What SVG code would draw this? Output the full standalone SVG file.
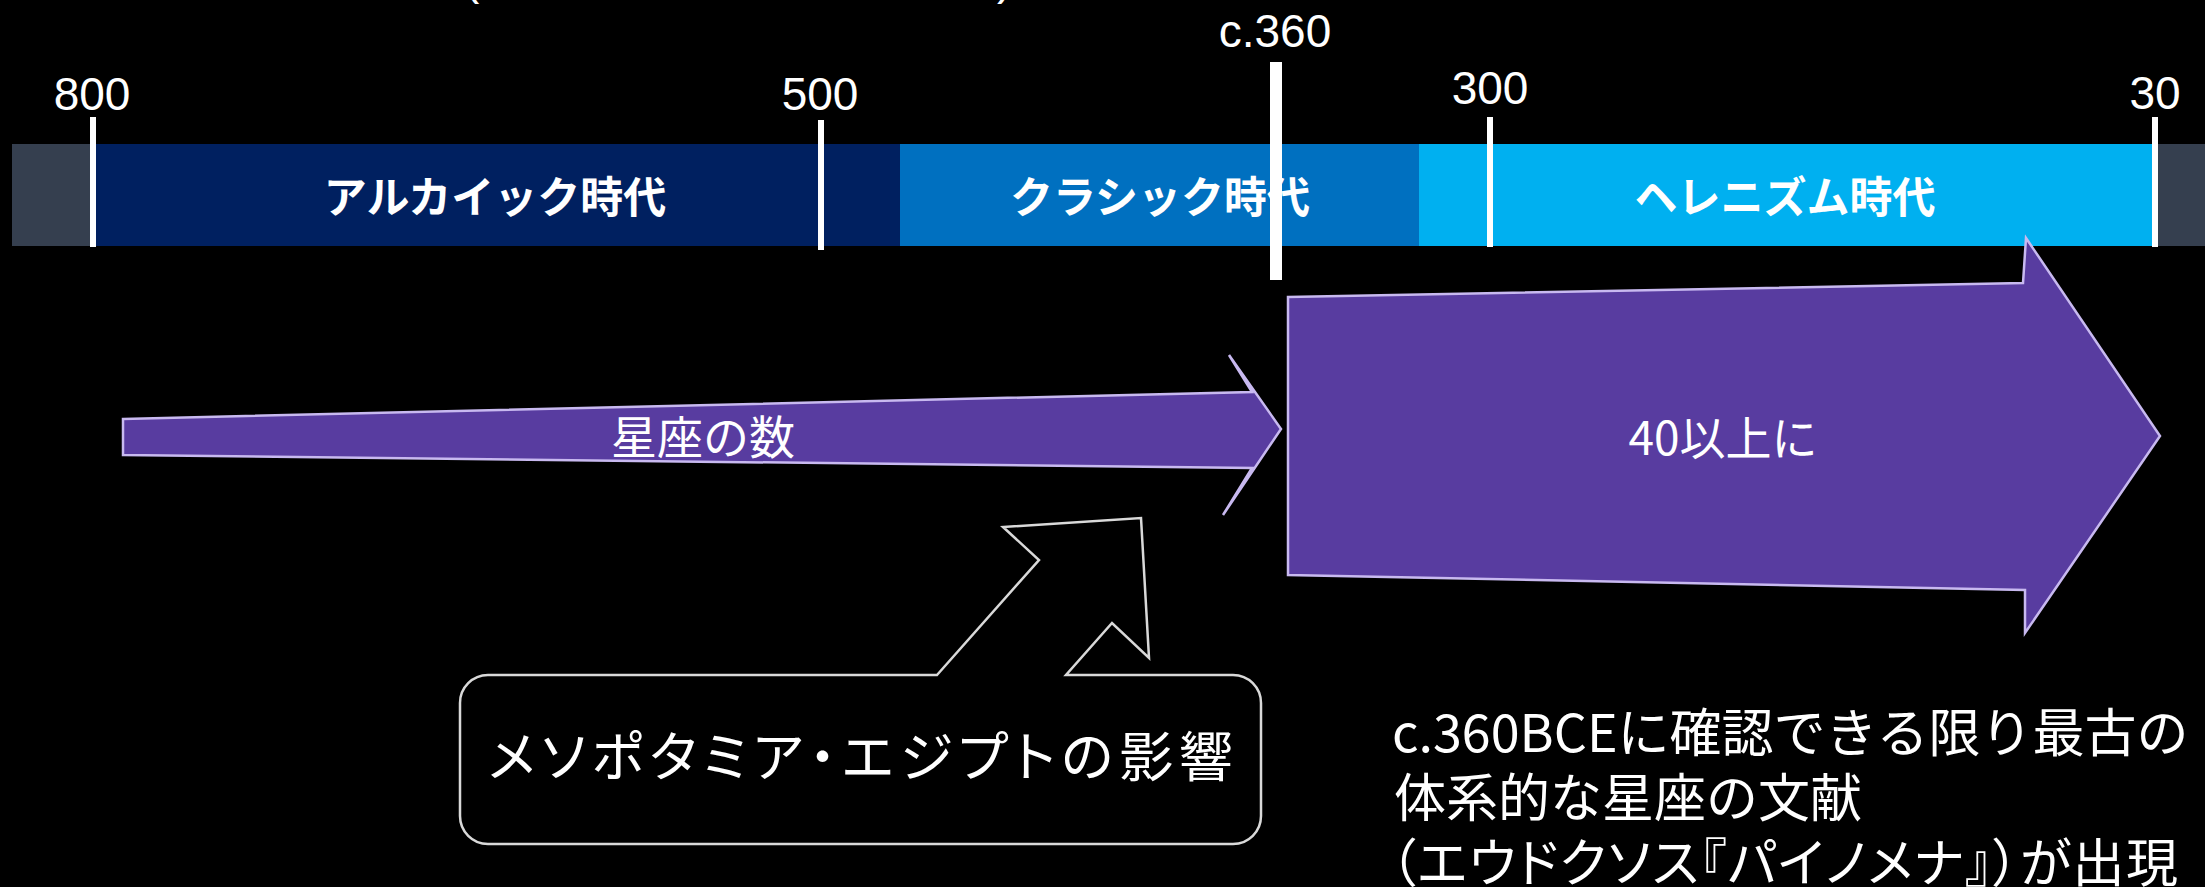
<svg xmlns="http://www.w3.org/2000/svg" width="2205" height="887" viewBox="0 0 2205 887">
  <style>
    .num { font-family: "Liberation Sans", Arial, sans-serif; font-size: 46px; fill: #ffffff; text-anchor: middle; }
    .era { font-family: "Noto Sans CJK JP", "Noto Sans", sans-serif; font-size: 43px; font-weight: bold; fill: #ffffff; text-anchor: middle; }
    .jp { font-family: "Noto Sans CJK JP", "Noto Sans", sans-serif; fill: #ffffff; }
    .palt { font-feature-settings: "palt" 1; }
    .tick { fill: #ffffff; }
    .arrow { fill: #583CA0; stroke: #C8B9F0; stroke-width: 2.5; stroke-linejoin: miter; }
    .callout { fill: #000000; stroke: #D9D9D9; stroke-width: 2.5; stroke-linejoin: miter; }
  </style>
  <rect x="0" y="0" width="2205" height="887" fill="#000000"/>

  <g id="cutoff-title">
    <text class="num" x="464" y="-6" style="text-anchor:start">(</text>
    <text class="num" x="997" y="-6" style="text-anchor:start">)</text>
  </g>

  <g id="timeline-bar">
    <rect x="12" y="144" width="2193" height="102" fill="#353F4F"/>
    <rect x="93" y="144" width="807" height="102" fill="#002060"/>
    <rect x="900" y="144" width="519" height="102" fill="#0070C0"/>
    <rect x="1419" y="144" width="736" height="102" fill="#00B0F0"/>
  </g>

  <g id="era-archaic">
    <text class="era" x="495" y="213">アルカイック時代</text>
  </g>
  <g id="era-classic">
    <text class="era" x="1160" y="213">クラシック時代</text>
  </g>
  <g id="era-hellenistic">
    <text class="era" x="1785" y="213">ヘレニズム時代</text>
  </g>

  <g id="tick-800">
    <rect class="tick" x="90" y="117" width="6" height="130"/>
    <text class="num" x="92" y="110">800</text>
  </g>
  <g id="tick-500">
    <rect class="tick" x="818" y="120" width="6" height="130"/>
    <text class="num" x="820" y="110">500</text>
  </g>
  <g id="tick-360">
    <rect class="tick" x="1270" y="62" width="12" height="218"/>
    <text class="num" x="1275" y="47">c.360</text>
  </g>
  <g id="tick-300">
    <rect class="tick" x="1487" y="117" width="6" height="130"/>
    <text class="num" x="1490" y="104">300</text>
  </g>
  <g id="tick-30">
    <rect class="tick" x="2152" y="117" width="6" height="130"/>
    <text class="num" x="2155" y="109">30</text>
  </g>

  <g id="arrow-count">
    <polygon class="arrow" points="123,419 1252,392 1229,355 1281,429 1223,515 1252,468 123,455"/>
    <text class="jp" x="703" y="454" font-size="46" text-anchor="middle">星座の数</text>
  </g>

  <g id="arrow-40">
    <polygon class="arrow" points="1288,297 2023,283 2026,238 2160,436 2025,633 2025,590 1288,575"/>
    <text class="jp" x="1723" y="455" font-size="46" text-anchor="middle">40以上に</text>
  </g>

  <g id="callout-influence">
    <path class="callout" d="M 937,675 L 1039,560 L 1003,527 L 1141,518 L 1149,658 L 1112,623 L 1066,675 L 1233,675 A 28 28 0 0 1 1261,703 L 1261,816 A 28 28 0 0 1 1233,844 L 488,844 A 28 28 0 0 1 460,816 L 460,703 A 28 28 0 0 1 488,675 Z"/>
    <text class="jp palt" x="488" y="777" font-size="54" textLength="745" lengthAdjust="spacing">メソポタミア・エジプトの影響</text>
  </g>

  <g id="note-eudoxus">
    <text class="jp" font-size="52">
      <tspan x="1392" y="752">c.360BCEに確認できる限り最古の</tspan>
      <tspan x="1394" y="817">体系的な星座の文献</tspan>
      <tspan class="palt" x="1390" y="882" textLength="788" lengthAdjust="spacing">（エウドクソス『パイノメナ』）が出現</tspan>
    </text>
  </g>

  <g id="connectors"></g>
</svg>
